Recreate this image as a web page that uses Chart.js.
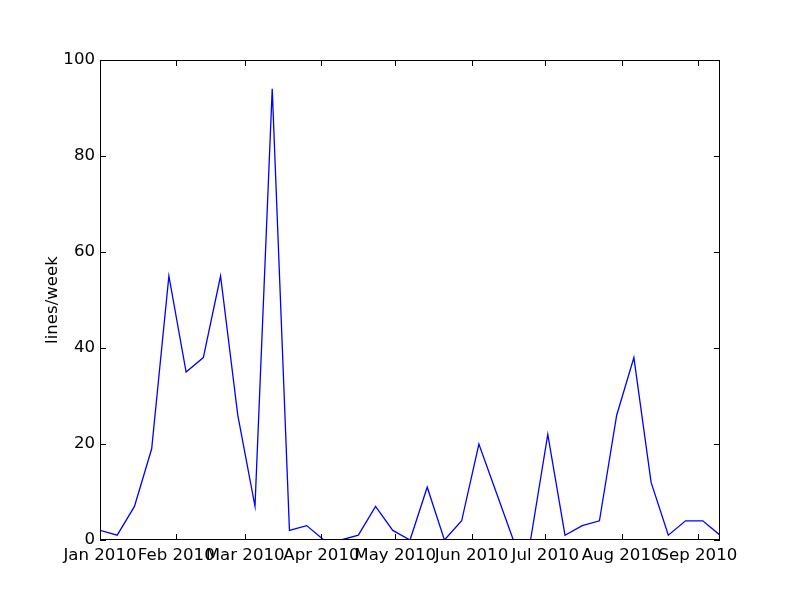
<!DOCTYPE html>
<html>
<head>
<title>lines/week</title>
<script src="https://cdn.jsdelivr.net/npm/chart.js"></script>
<style>
html, body { margin: 0; padding: 0; background: #fff; }
#wrap { width: 800px; height: 600px; }
</style>
</head>
<body>
<div id="wrap"><canvas id="myChart" width="800" height="600"></canvas></div>
<script>
// days since 1 Jan 2010, one point per week
var weekDays = [0, 7, 14, 21, 28, 35, 42, 49, 56, 63, 70, 77, 84, 91, 98, 105, 112, 119, 126,
  133, 140, 147, 154, 161, 168, 175, 182, 189, 196, 203, 210, 217, 224, 231, 238, 245, 252];
var linesPerWeek = [2, 1, 7, 19, 55, 35, 38, 55, 26, 7, 94, 2, 3, 0, 0, 1, 7, 2, 0,
  11, 0, 4, 20, 10, 0, 0, 22, 1, 3, 4, 26, 38, 12, 1, 4, 4, 1];

var monthTicks = [0, 31, 59, 90, 120, 151, 181, 212, 243];
var monthLabels = ['Jan 2010', 'Feb 2010', 'Mar 2010', 'Apr 2010', 'May 2010',
  'Jun 2010', 'Jul 2010', 'Aug 2010', 'Sep 2010'];
var yTicks = [0, 20, 40, 60, 80, 100];

var fnt = { family: 'DejaVu Sans', size: 16.6 };

// matplotlib style frame with inward ticks on all four sides
var frame = {
  id: 'frame',
  afterDraw: function(chart) {
    var c = chart.ctx, a = chart.chartArea;
    var xs = chart.scales.x, ys = chart.scales.y;
    c.save();
    c.strokeStyle = '#000';
    c.lineWidth = 1;
    c.beginPath();
    xs.ticks.forEach(function(t) {
      var px = Math.round(xs.getPixelForValue(t.value)) + 0.5;
      c.moveTo(px, a.bottom); c.lineTo(px, a.bottom - 6);
      c.moveTo(px, a.top); c.lineTo(px, a.top + 6);
    });
    ys.ticks.forEach(function(t) {
      var py = Math.round(ys.getPixelForValue(t.value)) + 0.5;
      c.moveTo(a.left, py); c.lineTo(a.left + 6, py);
      c.moveTo(a.right, py); c.lineTo(a.right - 6, py);
    });
    c.stroke();
    c.strokeRect(a.left + 0.5, a.top + 0.5, a.right - a.left - 1, a.bottom - a.top - 1);
    c.restore();
  }
};

var data = {
  datasets: [{
    label: 'lines/week',
    data: weekDays.map(function(d, i) { return { x: d, y: linesPerWeek[i] }; }),
    borderColor: '#0000ff',
    borderWidth: 1.3,
    pointRadius: 0,
    fill: false,
    tension: 0
  }]
};

var myChart = new Chart(document.getElementById('myChart'), {
  type: 'line',
  data: data,
  plugins: [frame],
  options: {
    responsive: false,
    animation: false,
    layout: { padding: { top: 60, right: 80, left: 0, bottom: 0 } },
    plugins: { legend: { display: false }, tooltip: { enabled: false } },
    scales: {
      x: {
        type: 'linear',
        min: 0,
        max: 252,
        afterBuildTicks: function(axis) {
          axis.ticks = monthTicks.map(function(v) { return { value: v }; });
        },
        afterFit: function(axis) { axis.height = 60; },
        grid: { display: false, drawTicks: false },
        border: { display: false },
        ticks: {
          autoSkip: false,
          maxRotation: 0,
          padding: 6,
          color: '#000',
          font: fnt,
          callback: function(v) { return monthLabels[monthTicks.indexOf(v)]; }
        }
      },
      y: {
        min: 0,
        max: 100,
        afterBuildTicks: function(axis) {
          axis.ticks = yTicks.map(function(v) { return { value: v }; });
        },
        afterFit: function(axis) { axis.width = 100; },
        grid: { display: false, drawTicks: false },
        border: { display: false },
        title: {
          display: true,
          text: 'lines/week',
          color: '#000',
          font: fnt,
          padding: { top: 43, bottom: 0 }
        },
        ticks: { padding: 5, color: '#000', font: fnt }
      }
    }
  }
});
</script>
</body>
</html>
